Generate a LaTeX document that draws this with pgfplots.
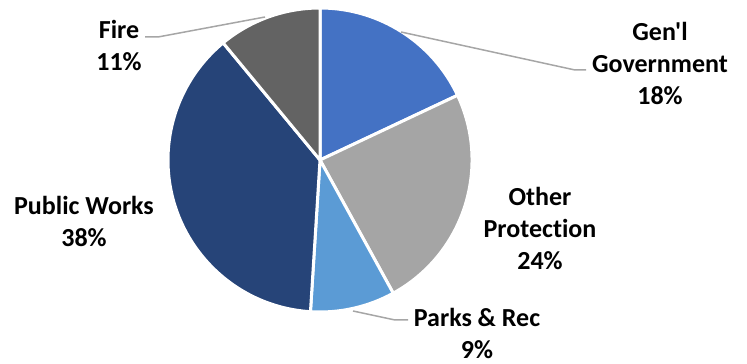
\documentclass[border=0pt]{standalone}
\usepackage{pgfplots}
\pgfplotsset{compat=1.18}
\usepackage{fontspec}
\setmainfont{Carlito}[Ligatures={TeXOff,NoCommon}]
\definecolor{cGen}{HTML}{4472C4}
\definecolor{cOth}{HTML}{A5A5A5}
\definecolor{cPark}{HTML}{5B9BD5}
\definecolor{cPW}{HTML}{264478}
\definecolor{cFire}{HTML}{636363}
\definecolor{leader}{HTML}{A6A6A6}
\begin{document}
\begin{tikzpicture}
\begin{axis}[
  hide axis, scale only axis,
  x=0.5pt, y=0.5pt,
  xmin=0, xmax=747, ymin=0, ymax=363,
  clip=false,
]
\path (axis cs:0,0) rectangle (axis cs:747,363);
% slices clockwise from 12 o'clock: value (%) / colour
\pgfmathsetmacro{\a}{90}
\foreach \v/\c in {18/cGen, 24/cOth, 9/cPark, 38/cPW, 11/cFire} {
  \pgfmathsetmacro{\b}{\a-3.6*\v}
  \edef\temp{\noexpand\fill[\c, draw=white, line width=1.5pt, line join=round]
    (axis cs:320,203) -- ++(\a:76pt) arc[start angle=\a, end angle=\b, radius=76pt] -- cycle;}
  \temp
  \global\let\a\b
}
% leader lines
\draw[leader, line width=0.75pt] (axis cs:401,331) -- (axis cs:575,293) -- (axis cs:586,293);
\draw[leader, line width=0.75pt] (axis cs:265,346) -- (axis cs:158,326) -- (axis cs:145,326);
\draw[leader, line width=0.75pt] (axis cs:353,52) -- (axis cs:395,43) -- (axis cs:408,43);
% labels
\tikzset{lbl/.style={align=center, font=\bfseries\fontsize{13}{16}\selectfont, inner sep=0pt}}
\node[lbl] at (axis cs:660,300) {Gen'l\\Government\\18\%};
\node[lbl] at (axis cs:540,135) {Other\\Protection\\24\%};
\node[lbl] at (axis cs:477,30) {Parks \& Rec\\9\%};
\node[lbl] at (axis cs:84,142) {Public Works\\38\%};
\node[lbl] at (axis cs:119,318) {Fire\\11\%};
\end{axis}
\end{tikzpicture}
\end{document}
